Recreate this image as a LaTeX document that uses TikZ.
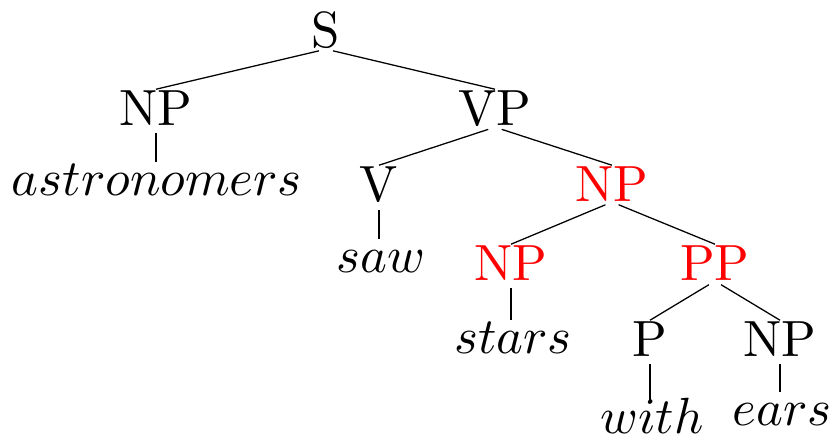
\documentclass[tikz,border=0pt]{standalone}
\usepackage{tikz}

\begin{document}
\begin{tikzpicture}[x=0.19646pt, y=-0.19646pt,
  cat/.style={anchor=base, inner sep=0pt},
  leaf/.style={anchor=base, inner sep=0pt, text height=6.3pt},
  hl/.style={text=red},
  branch/.style={line width=0.25pt, shorten <=1.4pt}]
  \useasboundingbox (0,0) rectangle (833,438);
  % categories
  \node[cat] (S) at (326,47) {S};
  \node[cat] (NPa) at (156,125) {NP};
  \node[cat] (VP) at (495,125) {VP};
  \node[cat] (V) at (379,201) {V};
  \node[cat, hl] (NPb) at (612,201) {NP};
  \node[cat, hl] (NPc) at (511,280) {NP};
  \node[cat, hl] (PP) at (715,280) {PP};
  \node[cat] (P) at (650,356) {P};
  \node[cat] (NPd) at (780,356) {NP};
  % words
  \node[leaf] (astro) at (157,195) {$astronomers$};
  \node[leaf] (saw) at (381,272) {$saw$};
  \node[leaf] (stars) at (513,353) {$stars$};
  \node[leaf] (with) at (652,433) {$with$};
  \node[leaf] (ears) at (782,425) {$ears$};
  \foreach \p/\c in {S/NPa, S/VP, VP/V, VP/NPb, NPb/NPc, NPb/PP, PP/P, PP/NPd}
    \draw[branch] (\p.south) -- (\c.north);
  \foreach \p/\c in {NPa/astro, V/saw, NPc/stars, P/with, NPd/ears}
    \draw[branch] (\p.south) -- (\p.south |- \c.north);
\end{tikzpicture}
\end{document}
